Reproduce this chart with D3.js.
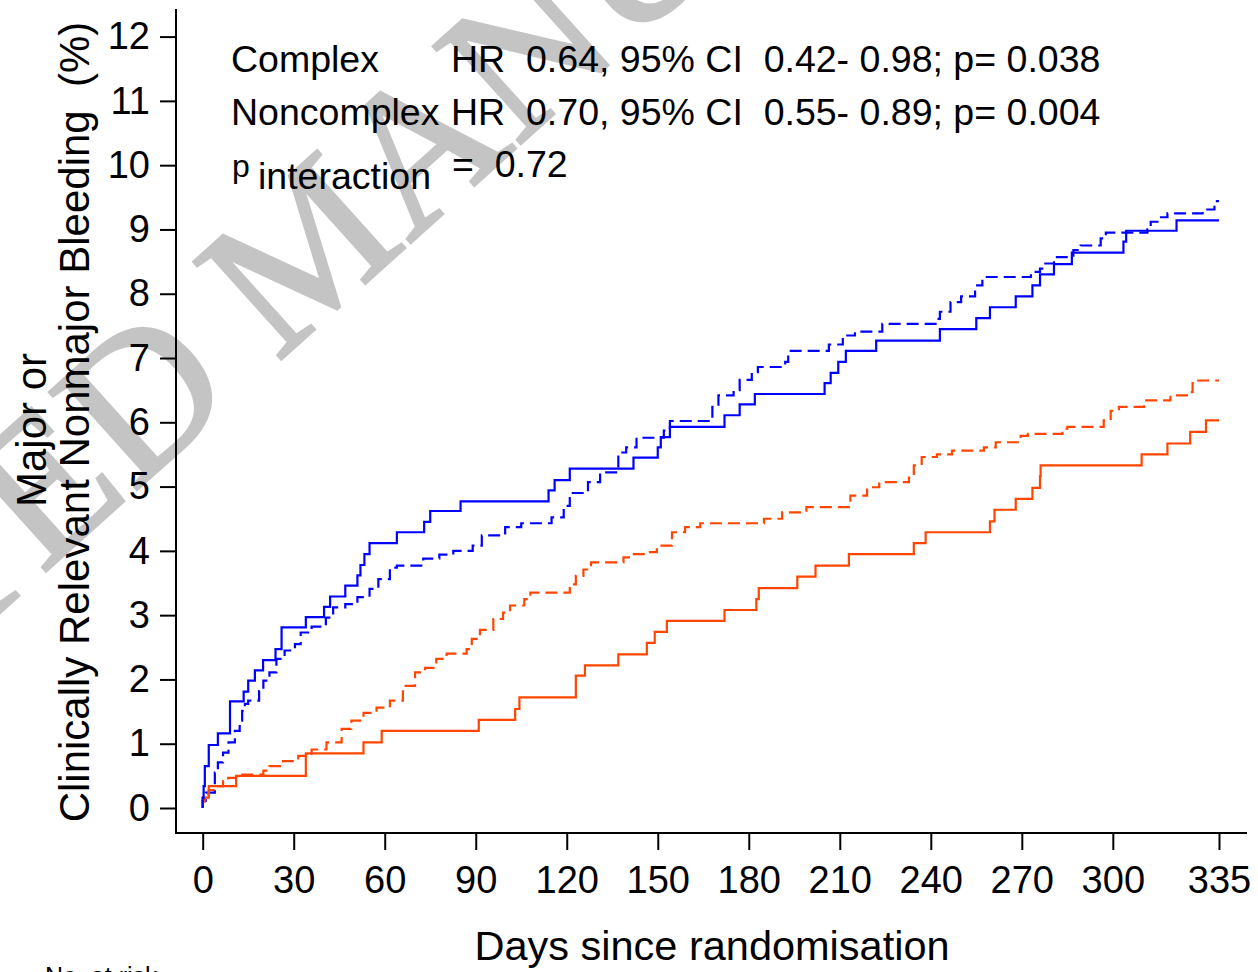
<!DOCTYPE html>
<html>
<head>
<meta charset="utf-8">
<script src="https://cdn.jsdelivr.net/npm/d3@7"></script>
<style>
  body { margin: 0; background: #fff; }
  svg { display: block; font-family: "Liberation Sans", Arial, sans-serif; }
</style>
</head>
<body>
<div id="chart"></div>
<script>
// Step curves: [day, cumulative %]
var complexBlue = [[0,0],[0,0.16],[0.3,0.34],[0.7,0.65],[2,0.98],[5,1.16],[9,1.66],[13.5,1.81],[15,1.98],[17.2,2.14],[19.9,2.30],[24,2.47],[26,2.81],[34,2.97],[40,3.13],[42,3.29],[47,3.46],[51,3.62],[52,3.78],[53.3,3.95],[55,4.12],[64,4.29],[73,4.45],[75,4.62],[85,4.77],[114,4.94],[116,5.10],[121,5.28],[142,5.45],[150,5.61],[151,5.77],[154,5.93],[172,6.11],[177,6.28],[182,6.44],[205,6.61],[207,6.77],[209.5,6.94],[212,7.11],[222,7.27],[243,7.45],[255,7.62],[259.5,7.79],[268,7.96],[273.5,8.13],[276,8.30],[280.6,8.46],[286.5,8.64],[303.5,8.81],[304.4,8.98],[321,9.14],[335,9.14]];

var noncomplexBlue = [[0,0],[0,0.11],[1,0.24],[4,0.55],[5,0.71],[6.7,0.86],[8.5,1.02],[10.6,1.20],[12.2,1.36],[13,1.51],[13.9,1.62],[15,1.67],[18.6,1.82],[20,1.98],[22,2.11],[24.3,2.32],[27,2.45],[30.4,2.55],[32.3,2.73],[35.9,2.82],[40.6,2.96],[43,3.12],[47,3.17],[51,3.28],[55,3.41],[57.9,3.56],[61.7,3.74],[64,3.77],[72.7,3.88],[78,3.94],[82.6,4.00],[89,4.08],[92,4.24],[99.7,4.37],[105,4.43],[115,4.52],[119,4.70],[121,4.90],[127,5.07],[131,5.22],[137,5.53],[139.6,5.61],[143,5.76],[152,5.87],[154,6.02],[168,6.24],[170,6.42],[175,6.50],[177,6.66],[181,6.78],[183,6.86],[192,6.94],[193,7.11],[206.4,7.21],[211,7.35],[215,7.41],[224,7.53],[242,7.61],[243,7.72],[246.5,7.87],[250,7.96],[254.6,8.13],[257,8.26],[273,8.34],[276,8.39],[277.3,8.47],[280.6,8.57],[287,8.68],[289.4,8.75],[296,8.86],[297.7,8.95],[311.4,9.00],[312.5,9.12],[314.7,9.19],[318,9.25],[329.6,9.31],[333.5,9.44],[335,9.44]];

var complexOrange = [[0,0],[0,0.16],[2,0.34],[11,0.50],[34,0.85],[53,1.02],[59,1.20],[91,1.37],[103,1.54],[104.4,1.72],[123,2.06],[126,2.22],[137,2.39],[146.4,2.57],[149,2.74],[153,2.91],[172,3.08],[182.5,3.25],[183.3,3.42],[196,3.60],[202,3.77],[213,3.95],[234.4,4.12],[238.3,4.29],[259.5,4.46],[261,4.64],[268,4.81],[273.5,4.98],[276,5.16],[276.2,5.33],[309.5,5.50],[318,5.67],[325.5,5.85],[330.7,6.03],[335,6.03]];

var noncomplexOrange = [[0,0],[0,0.10],[0.7,0.21],[2,0.28],[4.5,0.34],[6.7,0.42],[8.4,0.47],[11,0.52],[20,0.58],[22,0.65],[26.5,0.73],[31.5,0.81],[35.9,0.91],[40.8,1.02],[45.8,1.23],[49,1.36],[53,1.48],[57.3,1.56],[61.7,1.67],[66,1.90],[70,2.11],[73.3,2.18],[77,2.32],[80.4,2.40],[87,2.47],[88.7,2.63],[91.4,2.77],[95.8,2.94],[99,3.04],[101.3,3.15],[106,3.25],[108,3.35],[121,3.48],[123,3.61],[125.5,3.71],[128,3.82],[138.7,3.90],[141,3.95],[146,3.98],[149.7,4.08],[154.7,4.29],[159,4.37],[164,4.43],[185,4.50],[191,4.60],[199,4.68],[213.5,4.86],[219,4.99],[223,5.07],[232.8,5.14],[234.4,5.33],[237,5.46],[242,5.50],[247,5.56],[257.5,5.61],[261.4,5.69],[269.6,5.79],[272,5.82],[283.4,5.90],[285,5.93],[297,6.03],[299.3,6.18],[302,6.24],[310.3,6.34],[319,6.42],[325,6.47],[326.3,6.65],[335,6.65]];

var xTicks = [0, 30, 60, 90, 120, 150, 180, 210, 240, 270, 300, 335];
var yTicks = [0, 1, 2, 3, 4, 5, 6, 7, 8, 9, 10, 11, 12];

var statLabels = ["Complex", "Noncomplex"];
var statTexts = ["HR  0.64, 95% CI  0.42- 0.98; p= 0.038",
                 "HR  0.70, 95% CI  0.55- 0.89; p= 0.004"];
var pInteraction = "0.72";

// keep the double spaces of the original
function keepSpaces(s) { return s.replace(/ /g, "\u00a0"); }

var width = 1258, height = 972;

var svg = d3.select("#chart")
  .append("svg")
  .attr("width", width)
  .attr("height", height);

// watermark
svg.append("text")
  .attr("transform", "translate(-528,1088) rotate(-42)")
  .style("font-family", "'Liberation Serif', 'Times New Roman', serif")
  .style("font-size", "200px")
  .attr("fill", "#c4c4c4")
  .attr("stroke", "#c4c4c4")
  .attr("stroke-width", 3)
  .text("ACCEPTED MANUSCRIPT");

var x = d3.scaleLinear().domain([0, 335]).range([202.7, 1219]);
var y = d3.scaleLinear().domain([0, 12]).range([808, 36.6]);

// axes
var xAxis = d3.axisBottom(x).tickValues(xTicks).tickSize(17).tickPadding(16).tickSizeOuter(0);
var yAxis = d3.axisLeft(y).tickValues(yTicks).tickSize(16).tickPadding(10).tickSizeOuter(0);

var gx = svg.append("g").attr("transform", "translate(0,833)").call(xAxis);
var gy = svg.append("g").attr("transform", "translate(176,0)").call(yAxis);

[gx, gy].forEach(function(g) {
  g.select(".domain").remove();
  g.selectAll(".tick line").attr("stroke", "#000").attr("stroke-width", 2);
  g.selectAll(".tick text")
    .attr("fill", "#000")
    .style("font-family", "'Liberation Sans', Arial, sans-serif")
    .style("font-size", "38px");
});

svg.append("line").attr("x1", 176).attr("x2", 176).attr("y1", 9).attr("y2", 834)
  .attr("stroke", "#000").attr("stroke-width", 2);
svg.append("line").attr("x1", 175).attr("x2", 1247).attr("y1", 833).attr("y2", 833)
  .attr("stroke", "#000").attr("stroke-width", 2);

// curves
var line = d3.line()
  .x(function(d) { return x(d[0]); })
  .y(function(d) { return y(d[1]); })
  .curve(d3.curveStepAfter);

var series = [
  { data: noncomplexBlue, color: "#0000ff", dash: "12,6" },
  { data: noncomplexOrange, color: "#ff4500", dash: "12,6" },
  { data: complexOrange, color: "#ff4500", dash: null },
  { data: complexBlue, color: "#0000ff", dash: null }
];

series.forEach(function(s) {
  svg.append("path")
    .datum(s.data)
    .attr("d", line)
    .attr("fill", "none")
    .attr("stroke", s.color)
    .attr("stroke-width", 2.2)
    .attr("stroke-dasharray", s.dash);
});

// annotations
var ann = svg.append("g").attr("fill", "#000").style("font-size", "37.5px");
statLabels.forEach(function(lbl, i) {
  ann.append("text").attr("x", 231).attr("y", 72 + i * 53).text(lbl);
  ann.append("text").attr("x", 451).attr("y", 72 + i * 53).text(keepSpaces(statTexts[i]));
});
ann.append("text").attr("x", 232).attr("y", 177).style("font-size", "32px").text("p");
ann.append("text").attr("x", 258).attr("y", 189).text("interaction");
ann.append("text").attr("x", 452).attr("y", 177).text(keepSpaces("=  " + pInteraction));

// axis titles
svg.append("text")
  .attr("x", 712).attr("y", 960)
  .attr("text-anchor", "middle")
  .style("font-size", "41.5px")
  .text("Days since randomisation");

svg.append("text")
  .attr("transform", "translate(46,430) rotate(-90)")
  .attr("text-anchor", "middle")
  .style("font-size", "42px")
  .text("Major or");

svg.append("text")
  .attr("transform", "translate(89,422) rotate(-90)")
  .attr("text-anchor", "middle")
  .style("font-size", "42px")
  .text(keepSpaces("Clinically Relevant Nonmajor Bleeding  (%)"));

svg.append("text")
  .attr("x", 45).attr("y", 985)
  .style("font-size", "25px")
  .text("No. at risk");
</script>
</body>
</html>
